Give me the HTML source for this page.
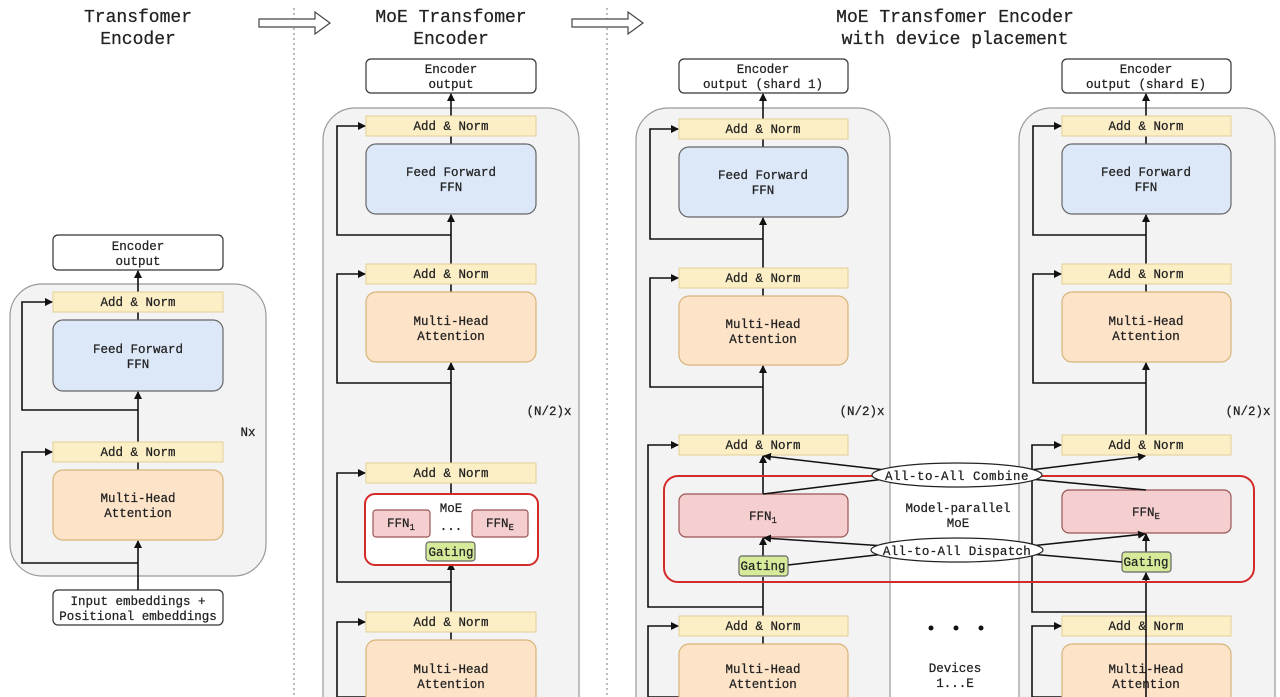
<!DOCTYPE html>
<html><head><meta charset="utf-8"><style>
html,body{margin:0;padding:0;background:#fff;}
svg{display:block;}
text{font-family:"Liberation Mono","DejaVu Sans Mono",monospace;font-size:12.5px;fill:#222;text-anchor:middle;stroke:#222;stroke-width:0.25;}
.t{font-size:18px;}
.an{fill:#fcefc6;stroke:#e3cf95;stroke-width:1;}
.ffn{fill:#dce8f8;stroke:#666;stroke-width:1.2;}
.mha{fill:#fde3c8;stroke:#d8b47a;stroke-width:1.2;}
.out{fill:#fff;stroke:#333;stroke-width:1.2;}
.pk{fill:#f5cfd0;stroke:#9a5555;stroke-width:1.2;}
.gt{fill:#d6eb9a;stroke:#666;stroke-width:1.2;}
.cont{fill:#f3f3f3;stroke:#999;stroke-width:1.2;}
.ln{stroke:#111;stroke-width:1.6;fill:none;}
.red{fill:none;stroke:#d42a2a;stroke-width:2;}
</style></head><body>
<svg width="1280" height="697" viewBox="0 0 1280 697" xmlns="http://www.w3.org/2000/svg">
<defs><marker id="a" markerWidth="8" markerHeight="8" refX="7" refY="4" orient="auto" markerUnits="userSpaceOnUse"><path d="M0,0 L8,4 L0,8 Z" fill="#111"/></marker></defs>

<text class="t" x="138" y="22">Transfomer</text>
<text class="t" x="138" y="44">Encoder</text>
<text class="t" x="451" y="22">MoE Transfomer</text>
<text class="t" x="451" y="44">Encoder</text>
<text class="t" x="955" y="22">MoE Transfomer Encoder</text>
<text class="t" x="955" y="44">with device placement</text>

<line x1="294" y1="8" x2="294" y2="697" stroke="#777" stroke-dasharray="2,3"/>
<line x1="607" y1="8" x2="607" y2="697" stroke="#777" stroke-dasharray="2,3"/>
<path d="M259,19 H315 V12 L330,23 L315,34 V27 H259 Z" fill="#fff" stroke="#444" stroke-width="1.2"/>
<path d="M572,19 H628 V12 L643,23 L628,34 V27 H572 Z" fill="#fff" stroke="#444" stroke-width="1.2"/>

<!-- Panel 1 -->
<rect class="cont" x="10" y="284" width="256" height="292" rx="32"/>
<rect class="out" x="53" y="235" width="170" height="35" rx="5"/>
<text x="138" y="250">Encoder</text><text x="138" y="265">output</text>
<line class="ln" x1="138" y1="292" x2="138" y2="271" marker-end="url(#a)"/>
<line class="ln" x1="138" y1="320" x2="138" y2="312"/>
<line class="ln" x1="138" y1="442" x2="138" y2="392" marker-end="url(#a)"/>
<line class="ln" x1="138" y1="470" x2="138" y2="462"/>
<line class="ln" x1="138" y1="590" x2="138" y2="541" marker-end="url(#a)"/>
<path class="ln" d="M138,563 H22 V452 H52" marker-end="url(#a)"/>
<path class="ln" d="M138,410 H22 V302 H52" marker-end="url(#a)"/>
<rect class="an" x="53" y="292" width="170" height="20"/><text x="138" y="306">Add &amp; Norm</text>
<rect class="ffn" x="53" y="320" width="170" height="71" rx="10"/><text x="138" y="353">Feed Forward</text><text x="138" y="368">FFN</text>
<rect class="an" x="53" y="442" width="170" height="20"/><text x="138" y="456">Add &amp; Norm</text>
<rect class="mha" x="53" y="470" width="170" height="70" rx="10"/><text x="138" y="502">Multi-Head</text><text x="138" y="517">Attention</text>
<rect class="out" x="53" y="590" width="170" height="35" rx="5"/>
<text x="138" y="605">Input embeddings +</text><text x="138" y="620">Positional embeddings</text>
<text x="248" y="436">Nx</text>

<!-- Panel 2 -->
<rect class="cont" x="323" y="108" width="256" height="620" rx="32"/>
<rect class="out" x="366" y="59" width="170" height="34" rx="5"/>
<text x="451" y="73">Encoder</text><text x="451" y="88">output</text>
<line class="ln" x1="451" y1="116" x2="451" y2="94" marker-end="url(#a)"/>
<line class="ln" x1="451" y1="144" x2="451" y2="136"/>
<line class="ln" x1="451" y1="264" x2="451" y2="215" marker-end="url(#a)"/>
<line class="ln" x1="451" y1="292" x2="451" y2="284"/>
<line class="ln" x1="451" y1="463" x2="451" y2="363" marker-end="url(#a)"/>
<line class="ln" x1="451" y1="494" x2="451" y2="483"/>
<line class="ln" x1="451" y1="612" x2="451" y2="563" marker-end="url(#a)"/>
<line class="ln" x1="451" y1="640" x2="451" y2="632"/>
<path class="ln" d="M451,235 H337 V126 H365" marker-end="url(#a)"/>
<path class="ln" d="M451,383 H337 V274 H365" marker-end="url(#a)"/>
<path class="ln" d="M451,582 H337 V473 H365" marker-end="url(#a)"/>
<path class="ln" d="M451,697 H337 V622 H365" marker-end="url(#a)"/>
<rect class="an" x="366" y="116" width="170" height="20"/><text x="451" y="130">Add &amp; Norm</text>
<rect class="ffn" x="366" y="144" width="170" height="70" rx="10"/><text x="451" y="176">Feed Forward</text><text x="451" y="191">FFN</text>
<rect class="an" x="366" y="264" width="170" height="20"/><text x="451" y="278">Add &amp; Norm</text>
<rect class="mha" x="366" y="292" width="170" height="70" rx="10"/><text x="451" y="325">Multi-Head</text><text x="451" y="340">Attention</text>
<rect class="an" x="366" y="463" width="170" height="20"/><text x="451" y="477">Add &amp; Norm</text>
<rect x="365" y="494" width="173" height="71" rx="10" fill="#fff" stroke="#d42a2a" stroke-width="2"/>
<text x="451" y="512">MoE</text>
<rect class="pk" x="373" y="510" width="57" height="27" rx="3"/><text x="401" y="527">FFN<tspan font-size="9" dy="3">1</tspan></text>
<rect class="pk" x="472" y="510" width="56" height="27" rx="3"/><text x="500" y="527">FFN<tspan font-size="9" dy="3">E</tspan></text>
<text x="451" y="530">...</text>
<rect class="gt" x="426" y="542" width="49" height="19" rx="3"/><text x="451" y="556">Gating</text>
<rect class="an" x="366" y="612" width="170" height="20"/><text x="451" y="626">Add &amp; Norm</text>
<rect class="mha" x="366" y="640" width="170" height="70" rx="10"/><text x="451" y="673">Multi-Head</text><text x="451" y="688">Attention</text>
<text x="549" y="415">(N/2)x</text>

<!-- Panel 3 -->
<rect class="cont" x="636" y="108" width="254" height="620" rx="32"/>
<rect class="out" x="679" y="59" width="169" height="34" rx="5"/>
<text x="763" y="73">Encoder</text><text x="763" y="88">output (shard 1)</text>
<line class="ln" x1="763" y1="119" x2="763" y2="94" marker-end="url(#a)"/>
<line class="ln" x1="763" y1="147" x2="763" y2="139"/>
<line class="ln" x1="763" y1="268" x2="763" y2="218" marker-end="url(#a)"/>
<line class="ln" x1="763" y1="296" x2="763" y2="288"/>
<line class="ln" x1="763" y1="435" x2="763" y2="366" marker-end="url(#a)"/>
<line class="ln" x1="763" y1="494" x2="763" y2="456" marker-end="url(#a)"/>
<line class="ln" x1="763" y1="556" x2="763" y2="538" marker-end="url(#a)"/>
<line class="ln" x1="763" y1="616" x2="763" y2="577"/>
<line class="ln" x1="763" y1="644" x2="763" y2="636"/>
<path class="ln" d="M763,239 H650 V129 H678" marker-end="url(#a)"/>
<path class="ln" d="M763,387 H650 V278 H678" marker-end="url(#a)"/>
<path class="ln" d="M763,607 H648 V445 H678" marker-end="url(#a)"/>
<path class="ln" d="M763,697 H648 V626 H678" marker-end="url(#a)"/>
<rect class="an" x="679" y="119" width="169" height="20"/><text x="763" y="133">Add &amp; Norm</text>
<rect class="ffn" x="679" y="147" width="169" height="70" rx="10"/><text x="763" y="179">Feed Forward</text><text x="763" y="194">FFN</text>
<rect class="an" x="679" y="268" width="169" height="20"/><text x="763" y="282">Add &amp; Norm</text>
<rect class="mha" x="679" y="296" width="169" height="69" rx="10"/><text x="763" y="328">Multi-Head</text><text x="763" y="343">Attention</text>
<rect class="an" x="679" y="435" width="169" height="20"/><text x="763" y="449">Add &amp; Norm</text>
<rect class="an" x="679" y="616" width="169" height="20"/><text x="763" y="630">Add &amp; Norm</text>
<rect class="mha" x="679" y="644" width="169" height="70" rx="10"/><text x="763" y="673">Multi-Head</text><text x="763" y="688">Attention</text>
<text x="862" y="415">(N/2)x</text>

<!-- Panel 4 -->
<rect class="cont" x="1019" y="108" width="256" height="620" rx="32"/>
<rect class="out" x="1062" y="59" width="169" height="34" rx="5"/>
<text x="1146" y="73">Encoder</text><text x="1146" y="88">output (shard E)</text>
<line class="ln" x1="1146" y1="116" x2="1146" y2="94" marker-end="url(#a)"/>
<line class="ln" x1="1146" y1="144" x2="1146" y2="136"/>
<line class="ln" x1="1146" y1="264" x2="1146" y2="215" marker-end="url(#a)"/>
<line class="ln" x1="1146" y1="292" x2="1146" y2="284"/>
<line class="ln" x1="1146" y1="435" x2="1146" y2="363" marker-end="url(#a)"/>
<path class="ln" d="M1146,235 H1033 V126 H1061" marker-end="url(#a)"/>
<path class="ln" d="M1146,383 H1033 V274 H1061" marker-end="url(#a)"/>
<path class="ln" d="M1146,612 H1032 V445 H1061" marker-end="url(#a)"/>
<path class="ln" d="M1146,697 H1032 V626 H1061" marker-end="url(#a)"/>
<rect class="an" x="1062" y="116" width="169" height="20"/><text x="1146" y="130">Add &amp; Norm</text>
<rect class="ffn" x="1062" y="144" width="169" height="70" rx="10"/><text x="1146" y="176">Feed Forward</text><text x="1146" y="191">FFN</text>
<rect class="an" x="1062" y="264" width="169" height="20"/><text x="1146" y="278">Add &amp; Norm</text>
<rect class="mha" x="1062" y="292" width="169" height="70" rx="10"/><text x="1146" y="325">Multi-Head</text><text x="1146" y="340">Attention</text>
<rect class="an" x="1062" y="435" width="169" height="20"/><text x="1146" y="449">Add &amp; Norm</text>
<rect class="an" x="1062" y="616" width="169" height="20"/><text x="1146" y="630">Add &amp; Norm</text>
<rect class="mha" x="1062" y="644" width="169" height="70" rx="10"/><text x="1146" y="673">Multi-Head</text><text x="1146" y="688">Attention</text>
<line class="ln" x1="1146" y1="697" x2="1146" y2="573" marker-end="url(#a)"/>
<line class="ln" x1="1146" y1="552" x2="1146" y2="534" marker-end="url(#a)"/>
<text x="1248" y="415">(N/2)x</text>

<!-- Model-parallel MoE -->
<rect class="red" x="664" y="476" width="590" height="106" rx="14"/>
<rect class="pk" x="679" y="494" width="169" height="43" rx="7"/><text x="763" y="520">FFN<tspan font-size="9" dy="3">1</tspan></text>
<rect class="pk" x="1062" y="490" width="169" height="43" rx="7"/><text x="1146" y="516">FFN<tspan font-size="9" dy="3">E</tspan></text>
<rect class="gt" x="739" y="556" width="49" height="20" rx="3"/><text x="763" y="570">Gating</text>
<rect class="gt" x="1122" y="552" width="49" height="20" rx="3"/><text x="1146" y="566">Gating</text>
<text x="958" y="512">Model-parallel</text><text x="958" y="527">MoE</text>
<line class="ln" x1="763" y1="494" x2="885" y2="479"/>
<line class="ln" x1="885" y1="470" x2="764" y2="456" marker-end="url(#a)"/>
<line class="ln" x1="1146" y1="490" x2="1030" y2="479"/>
<line class="ln" x1="1030" y1="470" x2="1145" y2="456" marker-end="url(#a)"/>
<line class="ln" x1="788" y1="565" x2="885" y2="554"/>
<line class="ln" x1="885" y1="546" x2="764" y2="538" marker-end="url(#a)"/>
<line class="ln" x1="1122" y1="562" x2="1030" y2="554"/>
<line class="ln" x1="1030" y1="546" x2="1145" y2="534" marker-end="url(#a)"/>
<ellipse cx="957" cy="475" rx="85" ry="12" fill="#fff" stroke="#222" stroke-width="1.2"/>
<text x="957" y="480" font-size="13" letter-spacing="0.5">All-to-All Combine</text>
<ellipse cx="957" cy="550" rx="86" ry="12" fill="#fff" stroke="#222" stroke-width="1.2"/>
<text x="957" y="555" font-size="13" letter-spacing="0.3">All-to-All Dispatch</text>
<circle cx="931" cy="628" r="2.5" fill="#111"/><circle cx="956" cy="628" r="2.5" fill="#111"/><circle cx="981" cy="628" r="2.5" fill="#111"/>
<text x="955" y="672">Devices</text><text x="955" y="687">1...E</text>
</svg>
</body></html>
